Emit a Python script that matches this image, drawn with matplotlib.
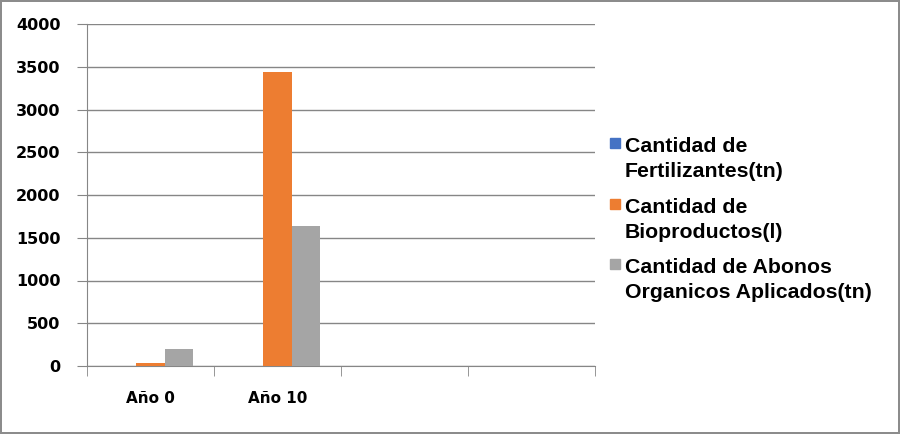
import numpy as np
import matplotlib.pyplot as plt
from matplotlib.patches import Rectangle

categories = ['Año 0', 'Año 10', '', '']
series_names = [['Cantidad de', 'Fertilizantes(tn)'],
                ['Cantidad de', 'Bioproductos(l)'],
                ['Cantidad de Abonos', 'Organicos Aplicados(tn)']]
fertilizantes = [0, 0, 0, 0]
bioproductos = [40, 3440, 0, 0]
abonos = [200, 1635, 0, 0]
colors = ['#4472C4', '#ED7D31', '#A5A5A5']

W, H = 900, 434
fig = plt.figure(figsize=(W / 100, H / 100), dpi=100)
fig.patch.set_edgecolor('#8c8c8c')
fig.patch.set_linewidth(1.5)
ax = fig.add_axes([87 / W, 1 - 366 / H, 508 / W, 342 / H])

x = np.arange(len(categories))
w = 0.222
for i, vals in enumerate([fertilizantes, bioproductos, abonos]):
    ax.bar(x + (i - 1) * w, vals, w, color=colors[i], zorder=3)

ax.set_xlim(-0.5, len(categories) - 0.5)
ax.set_ylim(0, 4000)
ax.set_yticks(range(0, 4001, 500))
ax.yaxis.grid(True, color='#868686', linewidth=1, zorder=0)
for s in ['top', 'right']:
    ax.spines[s].set_visible(False)
for s in ['left', 'bottom']:
    ax.spines[s].set_color('#868686')
ax.tick_params(axis='y', length=7, color='#868686', pad=12, labelsize=11.5)
ax.set_xticks(x)
ax.set_xticklabels(categories)
ax.tick_params(axis='x', length=0, pad=18, labelsize=11)
ax.set_xticks(np.arange(-0.5, len(categories)), minor=True)
ax.tick_params(axis='x', which='minor', length=7, color='#868686')
for lbl in ax.get_xticklabels() + ax.get_yticklabels():
    lbl.set_fontweight('bold')
    lbl.set_family('DejaVu Sans')

# legend drawn by hand so the marker sits beside the first line
leg_base = [152, 213, 273]
for i, lines in enumerate(series_names):
    b = leg_base[i]
    fig.add_artist(Rectangle((610 / W, 1 - (b - 4) / H), 10 / W, 10 / H,
                             transform=fig.transFigure, color=colors[i]))
    for j, line in enumerate(lines):
        fig.text(625 / W, 1 - (b + 25 * j) / H, line, va='baseline', ha='left',
                 family='Liberation Sans', weight='bold', fontsize=15.3)

fig.savefig('out.png', dpi=100, edgecolor=fig.get_edgecolor())
